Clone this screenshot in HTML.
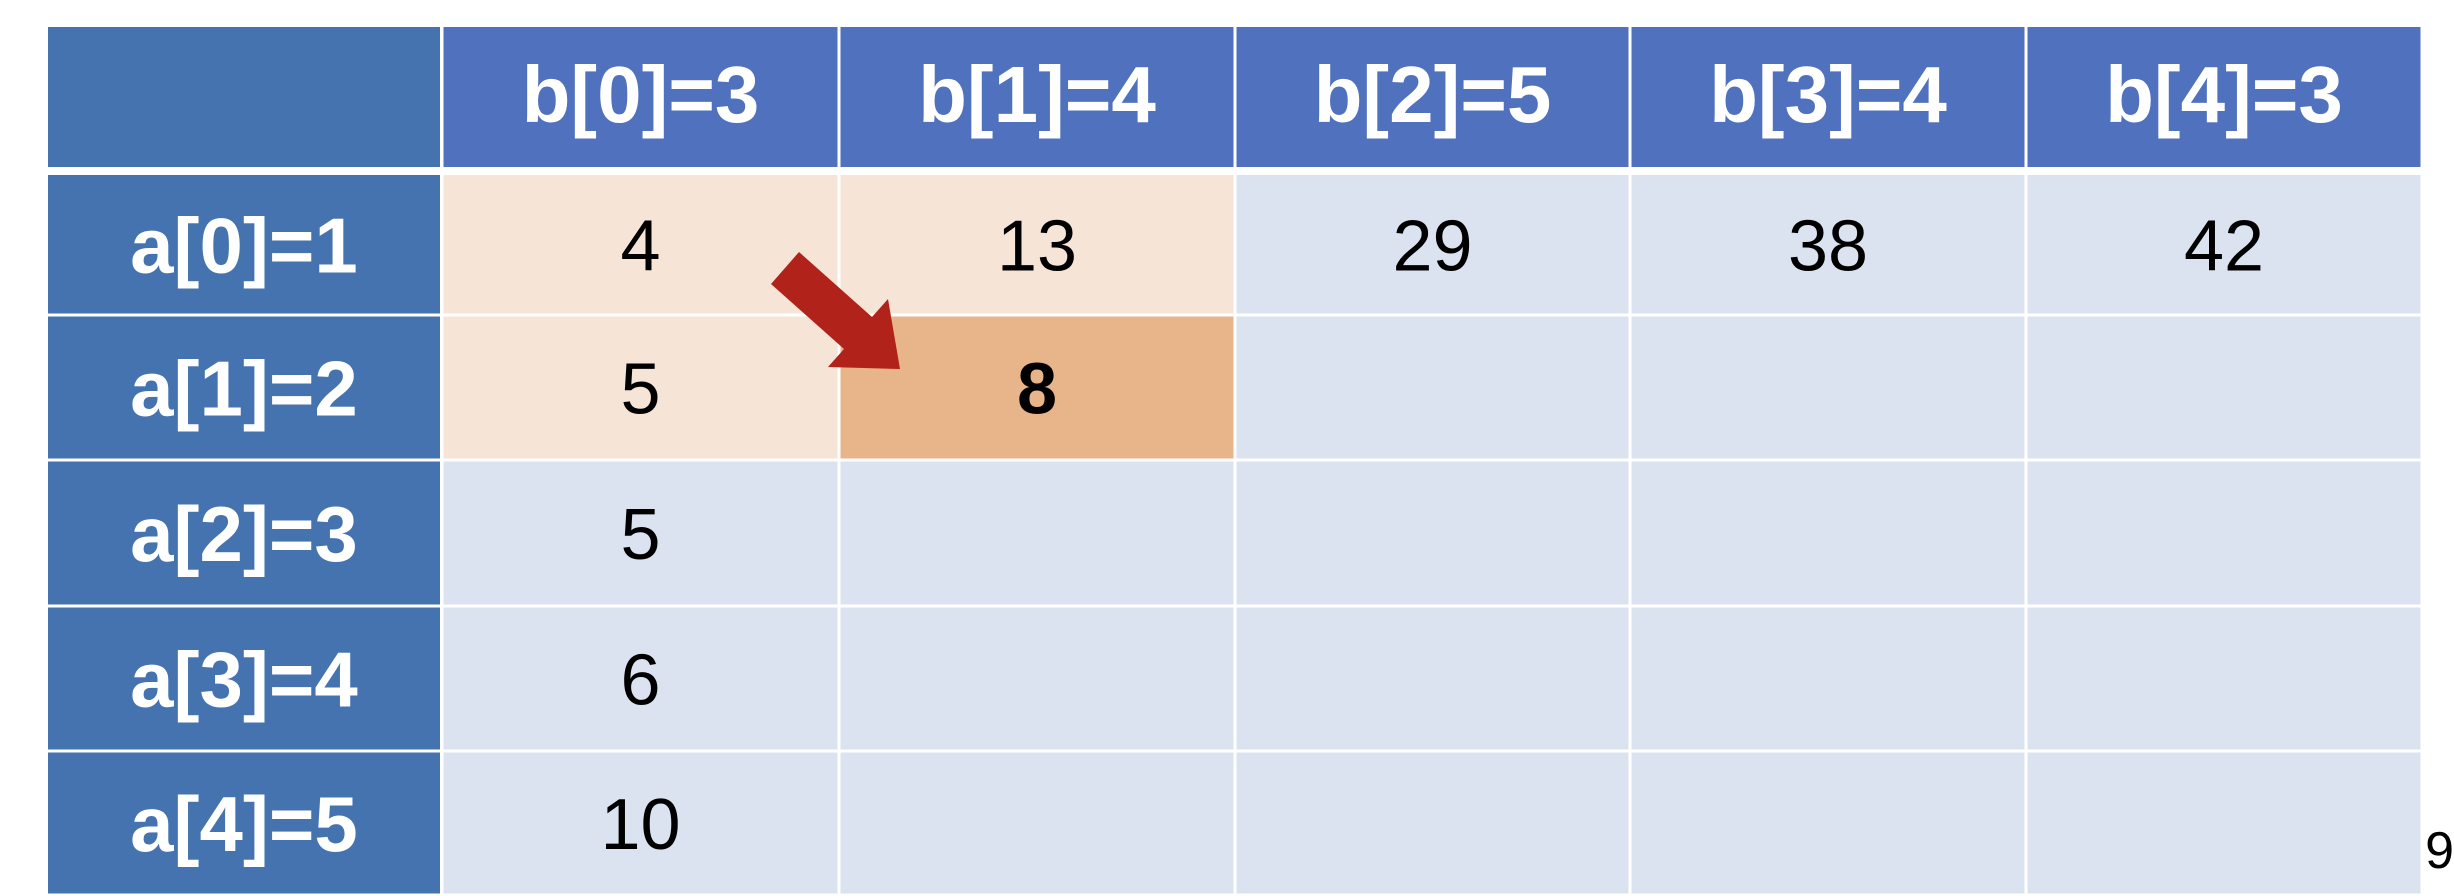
<!DOCTYPE html>
<html><head><meta charset="utf-8"><style>
html,body{margin:0;padding:0;background:#fff;width:2454px;height:896px;overflow:hidden}
svg{display:block}
text{font-family:"Liberation Sans","Noto Sans CJK JP",sans-serif}
</style></head><body>
<svg id="tbl" width="2454" height="896" viewBox="0 0 2454 896" xmlns="http://www.w3.org/2000/svg"></svg>
<script>
const colLabels=["b[0]=3","b[1]=4","b[2]=5","b[3]=4","b[4]=3"];
const rowLabels=["a[0]=1","a[1]=2","a[2]=3","a[3]=4","a[4]=5"];
const row0=["4","13","29","38","42"];
const row1=["5","8","","",""];
const row2=["5","","","",""];
const row3=["6","","","",""];
const row4=["10","","","",""];
const cells=[row0,row1,row2,row3,row4];
const hiLight=[[0,0],[0,1],[1,0]];
const hiDark=[[1,1]];
const svg=document.getElementById('tbl');
const NS="http://www.w3.org/2000/svg";
const colX=[48,442,839,1235,1630,2026,2422];
const rowY=[167,315,460,606,751,895];
function mk(t,a,p){const e=document.createElementNS(NS,t);for(const k in a)e.setAttribute(k,a[k]);(p||svg).appendChild(e);return e;}
function isIn(l,r,c){return l.some(v=>v[0]===r&&v[1]===c);}
// corner
let corner=mk('rect',{x:48,y:27,width:392,height:140,fill:'#4473B0'});


colLabels.forEach((l,i)=>{
  const x=colX[i+1]+1.5,w=colX[i+2]-colX[i+1]-3;
  const r=mk('rect',{x:x,y:27,width:w,height:140,fill:'#5071BE'});
  
  
  const t=mk('text',{x:x+w/2,y:122,'text-anchor':'middle','font-size':80,'font-weight':'bold',fill:'#fff'});
  t.textContent=l;
  
  
});
rowLabels.forEach((l,i)=>{
  const y0=(i===0?175:rowY[i]+1.5),y1=rowY[i+1]-1.5;
  const r=mk('rect',{x:48,y:y0,width:392,height:y1-y0,fill:'#4473B0'});
  
  
  const t=mk('text',{x:244,y:(y0+y1)/2+28,'text-anchor':'middle','font-size':78,'font-weight':'bold',fill:'#fff'});
  t.textContent=l;
  
  
  for(let c=0;c<5;c++){
    const x=colX[c+1]+1.5,w=colX[c+2]-colX[c+1]-3;
    let fill='#DCE3F0';
    if(isIn(hiLight,i,c))fill='#F6E4D7';
    if(isIn(hiDark,i,c))fill='#E8B48A';
    const cr=mk('rect',{x:x,y:y0,width:w,height:y1-y0,fill:fill});
    
    
    const v=cells[i][c];
    if(v!==""){
      const bold=isIn(hiDark,i,c);
      const ct=mk('text',{x:x+w/2,y:(y0+y1)/2+26,'text-anchor':'middle','font-size':72,'font-weight':bold?'bold':'normal',fill:'#000'});
      ct.textContent=v;
      
      
    }
  }
});
const ar=mk('polygon',{points:'799,252 872,317 888,299 900,369 828,367 844,349 771,284',fill:'#B0221A'});


const pn=mk('text',{x:2454,y:868,'text-anchor':'end','font-size':52,fill:'#000'});
pn.textContent='9';


</script>
</body></html>
